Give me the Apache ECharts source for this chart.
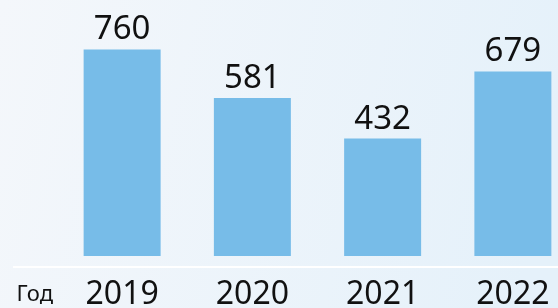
<!DOCTYPE html>
<html>
<head>
<meta charset="utf-8" />
<title>Год</title>
<script src="https://cdn.jsdelivr.net/npm/echarts@6/dist/echarts.min.js"></script>
<style>
    html, body { margin: 0; padding: 0; }
    #main { width: 558px; height: 308px; }
</style>
</head>
<body>
<div id="main"></div>
<script type="text/javascript">
    // данные
    var years = ['2019', '2020', '2021', '2022'];
    var counts = [760, 581, 432, 679];
    var axisTitle = 'Год';

    var chart = echarts.init(document.getElementById('main'));

    var option = {
        backgroundColor: new echarts.graphic.LinearGradient(0, 0, 1, 0.4, [
            { offset: 0, color: '#f4f7fb' },
            { offset: 1, color: '#e5f1fa' }
        ]),
        animation: false,
        grid: { left: 57, right: -20, top: 38.5, bottom: 41, outerBoundsMode: 'none' },
        graphic: [{
            // белая линия под столбцами
            type: 'line',
            shape: { x1: 13, y1: 267, x2: 558, y2: 267 },
            style: { stroke: '#ffffff', lineWidth: 2 }
        }],
        xAxis: {
            type: 'category',
            data: years,
            name: axisTitle,
            nameLocation: 'start',
            nameGap: 4,
            nameTextStyle: {
                fontFamily: 'Noto Sans',
                fontSize: 22,
                color: '#111',
                verticalAlign: 'top',
                padding: [28, 0, 0, 0]
            },
            axisLine: { show: false },
            axisTick: { show: false },
            axisLabel: {
                fontFamily: 'Noto Sans',
                fontSize: 32,
                color: '#111',
                margin: 12
            }
        },
        yAxis: {
            type: 'value',
            min: -40,
            max: 800,
            show: false
        },
        series: [{
            type: 'bar',
            data: counts,
            barWidth: 77,
            itemStyle: { color: '#77bce8' },
            label: {
                show: true,
                position: 'top',
                distance: 3,
                fontFamily: 'Noto Sans',
                fontSize: 33,
                color: '#111'
            }
        }]
    };

    chart.setOption(option);
</script>
</body>
</html>
